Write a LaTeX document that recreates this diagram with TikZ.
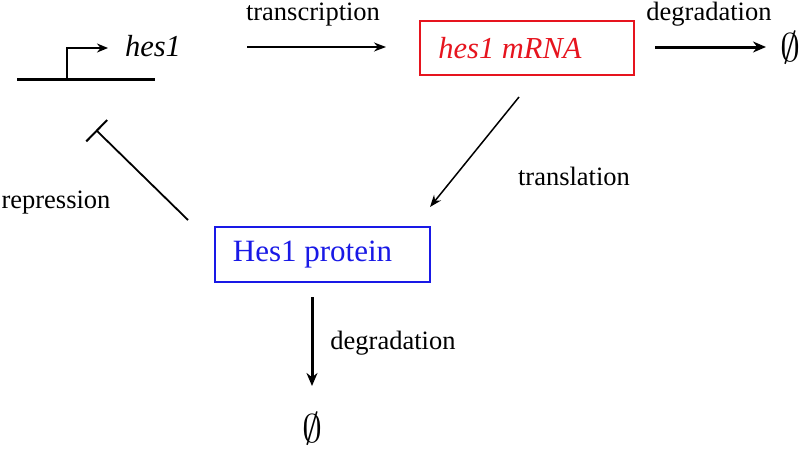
\documentclass[tikz,border=0pt]{standalone}
\usepackage{graphicx}
\usepackage{fontspec}
\setmainfont{Liberation Serif}
\usetikzlibrary{arrows.meta}
\tikzset{
  lbl/.style={font=\fontsize{26.5}{30}\selectfont, inner sep=0pt},
  box/.style={draw, line width=2pt, minimum height=54pt, inner sep=0pt},
  thinarrow/.style={line width=1.5pt, -{Stealth[length=12pt,width=9pt]}},
  thickarrow/.style={line width=3pt, -{Stealth[length=13pt,width=11pt]}},
  nullset/.style={inner sep=0pt},
}
\newcommand{\nullsym}{\scalebox{4}{$\emptyset$}}
\begin{document}
\begin{tikzpicture}[x=1pt,y=-1pt]
\useasboundingbox (0,0) rectangle (800,450);
% gene
\coordinate (gl) at (17,79);
\coordinate (gr) at (155,79);
\coordinate (p0) at (67,79);
\coordinate (p1) at (67,48);
\coordinate (p2) at (108,48);
\draw[line width=3pt] (gl) -- (gr);
\draw[line width=2pt, -{Stealth[length=11pt,width=9pt]}] (p0) -- (p1) -- (p2);
\node[inner sep=0pt, font=\fontsize{30.5}{36}\selectfont\itshape] (hes) at (153,46) {hes1};
% mRNA
\node[box, draw={rgb,255:red,230;green,20;blue,30}, text={rgb,255:red,230;green,20;blue,30}, minimum width=214pt, font=\fontsize{30.5}{36}\selectfont\itshape] (mrna) at (527,48) {hes1 mRNA\hspace*{34pt}};
% protein
\node[box, draw={rgb,255:red,25;green,25;blue,230}, text={rgb,255:red,25;green,25;blue,230}, minimum width=215pt, minimum height=55pt, font=\fontsize{31}{36}\selectfont] (prot) at (322.5,254.5) {Hes1 protein\hspace*{20pt}};
% null sets
\node[nullset] (n1) at (790,48) {\nullsym};
\node[nullset] (n2) at (312,429) {\nullsym};
% connector coordinates
\coordinate (ts) at (247,47);
\coordinate (te) at (386,47);
\coordinate (ds) at (655,47);
\coordinate (de) at (766,47);
\coordinate (ls) at (519,97);
\coordinate (le) at (430,207);
\coordinate (rs) at (188,220);
\coordinate (re) at (96,130);
\coordinate (bs) at (312,297);
\coordinate (be) at (312,386);
% connectors
\draw[thinarrow] (ts) -- (te);
\draw[thickarrow] (ds) -- (de);
\draw[thinarrow] (ls) -- (le);
\draw[line width=1.8pt, -{Bar[width=30pt,line width=2pt]}] (rs) -- (re);
\draw[thickarrow] (bs) -- (be);
% labels
\node[lbl] (lt) at (313,15) {transcription};
\node[lbl] (ld1) at (709,14) {degradation};
\node[lbl] (ltr) at (574,176) {translation};
\node[lbl] (lr) at (56,203) {repression};
\node[lbl] (ld2) at (393,343) {degradation};
\end{tikzpicture}
\end{document}
